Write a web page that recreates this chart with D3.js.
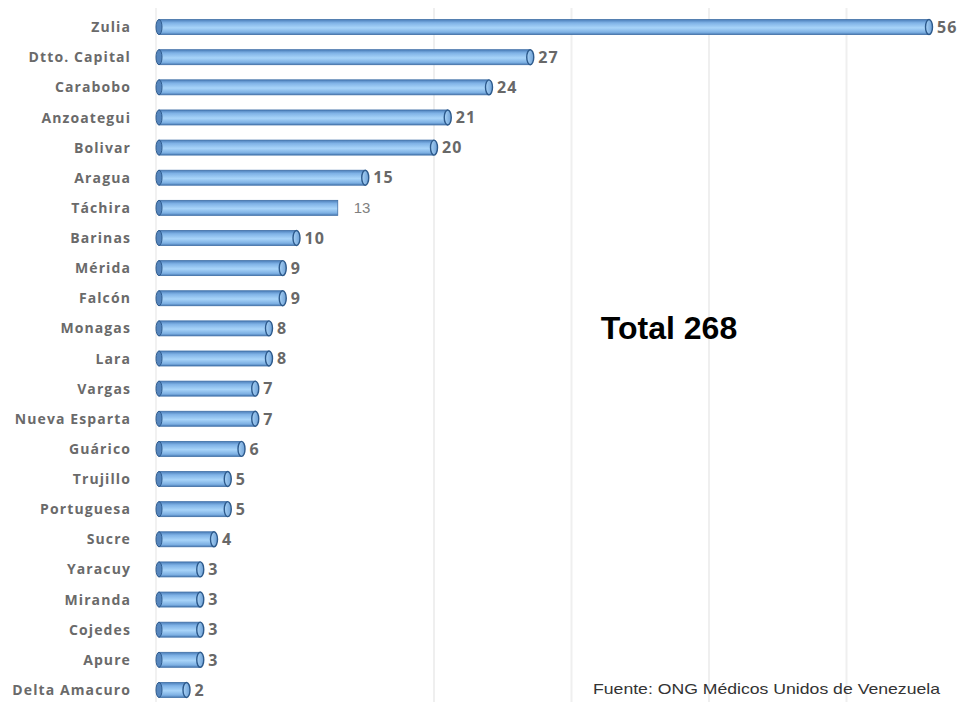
<!DOCTYPE html>
<html>
<head>
<meta charset="utf-8">
<script src="https://cdn.jsdelivr.net/npm/d3@7"></script>
<style>
  html, body { margin: 0; padding: 0; background: #fff; }
  svg { display: block; }
</style>
</head>
<body>
<svg id="chart" width="963" height="702"></svg>
<script>
// Casos por entidad federal
const states = ["Zulia", "Dtto. Capital", "Carabobo", "Anzoategui", "Bolivar", "Aragua", "Táchira",
  "Barinas", "Mérida", "Falcón", "Monagas", "Lara", "Vargas", "Nueva Esparta", "Guárico",
  "Trujillo", "Portuguesa", "Sucre", "Yaracuy", "Miranda", "Cojedes", "Apure", "Delta Amacuro"];
const cases = [56, 27, 24, 21, 20, 15, 13, 10, 9, 9, 8, 8, 7, 7, 6, 5, 5, 4, 3, 3, 3, 3, 2];
const gridTicks = [20, 30, 40, 50];
const totalLabel = "Total 268";
const sourceLabel = "Fuente: ONG Médicos Unidos de Venezuela";

const svg = d3.select("#chart");

const x = d3.scaleLinear().domain([0, 60]).range([159, 984]);
const y = d3.scaleBand().domain(states).range([12, 705]).paddingInner(0.5).paddingOuter(0.25);
const barH = 15;

// gradient for cylinder-like bars
const defs = svg.append("defs");
const grad = defs.append("linearGradient").attr("id", "barGrad")
  .attr("x1", 0).attr("y1", 0).attr("x2", 0).attr("y2", 1);
[["0%", "#4a7db8"], ["22%", "#7fb2e6"], ["55%", "#a8d4f9"], ["85%", "#7db0e3"], ["100%", "#4779b2"]]
  .forEach(([o, c]) => grad.append("stop").attr("offset", o).attr("stop-color", c));
const capGrad = defs.append("linearGradient").attr("id", "capGrad")
  .attr("x1", 0).attr("y1", 0).attr("x2", 1).attr("y2", 0);
[["0%", "#a9d3f7"], ["100%", "#6d9fd4"]]
  .forEach(([o, c]) => capGrad.append("stop").attr("offset", o).attr("stop-color", c));

// vertical gridlines
svg.append("g").selectAll("line").data(gridTicks).join("line")
  .attr("x1", d => x(d)).attr("x2", d => x(d))
  .attr("y1", 8).attr("y2", 702)
  .attr("stroke", "#efefef").attr("stroke-width", 2);

// left axis line
svg.append("line")
  .attr("x1", x(0) - 3).attr("x2", x(0) - 3).attr("y1", 8).attr("y2", 702)
  .attr("stroke", "#ececec").attr("stroke-width", 1.5);

const rows = states.map((s, i) => ({ state: s, value: cases[i] }));
const g = svg.append("g").selectAll("g").data(rows).join("g")
  .attr("transform", d => `translate(0,${y(d.state) + y.bandwidth() / 2})`);

// bar body
g.append("rect")
  .attr("x", x(0)).attr("y", -barH / 2)
  .attr("width", d => x(d.value) - x(0)).attr("height", barH)
  .attr("fill", "url(#barGrad)")
  .attr("stroke", "#3f6fa6").attr("stroke-width", 0.8);

// left end
g.append("ellipse")
  .attr("cx", x(0)).attr("cy", 0).attr("rx", 3).attr("ry", barH / 2)
  .attr("fill", "#5686bd").attr("stroke", "#2f5c8f").attr("stroke-width", 1);

// right end cap (Táchira drawn flat)
g.filter(d => d.state !== "Táchira").append("ellipse")
  .attr("cx", d => x(d.value)).attr("cy", 0).attr("rx", 3.5).attr("ry", barH / 2)
  .attr("fill", "url(#capGrad)").attr("stroke", "#2d5a8c").attr("stroke-width", 1.4);

// value labels
g.append("text")
  .attr("x", d => x(d.value) + (d.state === "Táchira" ? 16 : 8))
  .attr("y", 0).attr("dy", "0.36em")
  .attr("font-family", d => d.state === "Táchira" ? "'Liberation Sans', Arial, sans-serif" : "'Open Sans', sans-serif")
  .attr("font-weight", d => d.state === "Táchira" ? 400 : 700)
  .attr("font-size", d => d.state === "Táchira" ? 15 : 16)
  .attr("letter-spacing", d => d.state === "Táchira" ? 0 : 1)
  .attr("fill", d => d.state === "Táchira" ? "#808080" : "#686868")
  .text(d => d.value);

// category labels
g.append("text")
  .attr("x", 131).attr("y", 0).attr("dy", "0.36em")
  .attr("text-anchor", "end")
  .attr("font-family", "'Open Sans', sans-serif")
  .attr("font-weight", 700).attr("font-size", 14)
  .attr("letter-spacing", 1.1)
  .attr("fill", "#6a6a6a")
  .text(d => d.state);

// total
svg.append("text")
  .attr("x", 669).attr("y", 339).attr("text-anchor", "middle")
  .attr("font-family", "'Liberation Sans', Arial, sans-serif")
  .attr("font-weight", 700).attr("font-size", 32).attr("fill", "#000")
  .text(totalLabel);

// source
svg.append("text")
  .attr("x", 593).attr("y", 694)
  .attr("font-family", "'Liberation Sans', Arial, sans-serif")
  .attr("font-size", 15).attr("fill", "#333")
  .attr("textLength", 347).attr("lengthAdjust", "spacingAndGlyphs")
  .text(sourceLabel);
</script>
</body>
</html>
